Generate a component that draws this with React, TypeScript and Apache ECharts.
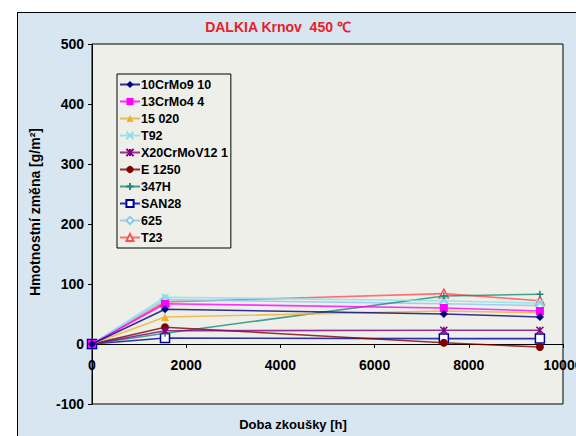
import React, { useEffect, useRef } from "react";
import * as echarts from "echarts";

const hours = [0, 1550, 7470, 9510];
const seriesNames = ["10CrMo9 10", "13CrMo4 4", "15 020", "T92", "X20CrMoV12 1", "E 1250", "347H", "SAN28", "625", "T23"];
const v10CrMo910 = [0, 58, 50, 45];
const v13CrMo44 = [0, 67, 60, 55];
const v15020 = [0, 45, 55, 52];
const vT92 = [0, 78, 72, 68];
const vX20 = [0, 22, 23, 23];
const vE1250 = [0, 28, 2, -5];
const v347H = [0, 18, 80, 83];
const vSAN28 = [0, 10, 9, 9];
const v625 = [0, 74, 67, 64];
const vT23 = [0, 70, 84, 72];
const yTicks = [-100, 0, 100, 200, 300, 400, 500];
const xTicks = [0, 2000, 4000, 6000, 8000, 10000];

const allValues = [v10CrMo910, v13CrMo44, v15020, vT92, vX20, vE1250, v347H, vSAN28, v625, vT23];

const colors = ["#000080", "#ff00ff", "#eeb030", "#88e0e8", "#800080", "#800000", "#1a8a78", "#0000a0", "#88c8f0", "#ff5050"];
const X_PATH = "path://M0,0L10,10M10,0L0,10";
const STAR_PATH = "path://M0,0L10,10M10,0L0,10M5,0L5,10";
const PLUS_PATH = "path://M5,0L5,10M0,5L10,5";
const symbols = ["diamond", "rect", "triangle", X_PATH, STAR_PATH, "circle", PLUS_PATH, "rect", "diamond", "triangle"];
const hollow = [false, false, false, false, false, false, false, true, true, true];
const strokeSym = [false, false, false, true, true, false, true, false, false, false];

export default function App() {
  const ref = useRef<HTMLDivElement>(null);
  useEffect(() => {
    document.body.style.margin = "0";
    if (!ref.current) return;
    const chart = echarts.init(ref.current, null, { renderer: "svg" });
    const font = { fontFamily: "Liberation Sans", fontWeight: "bold" as const, color: "#000" };
    const series = seriesNames.map((name, i) => ({
      name,
      type: "line",
      data: hours.map((h, j) => [h, allValues[i][j]]),
      symbol: symbols[i],
      symbolSize: hollow[i] ? 9 : strokeSym[i] ? 7 : 8,
      showAllSymbol: true,
      lineStyle: { color: colors[i], width: 1.6, opacity: 0.8 },
      itemStyle: hollow[i]
        ? { color: "#ffffff", borderColor: colors[i], borderWidth: 1.5 }
        : strokeSym[i]
        ? { color: colors[i], borderColor: colors[i], borderWidth: 1.5 }
        : { color: colors[i], borderColor: colors[i], borderWidth: 0 },
      z: 10 - i,
    }));
    chart.setOption({
      animation: false,
      textStyle: { fontFamily: "Liberation Sans" },
      grid: {
        left: 92,
        right: 37,
        top: 44,
        bottom: 32,
        show: true,
        backgroundColor: "#efefea",
        borderColor: "#000",
        borderWidth: 1,
      },
      xAxis: {
        type: "value",
        min: xTicks[0],
        max: xTicks[xTicks.length - 1],
        interval: 2000,
        position: "bottom",
        offset: -60,
        axisLine: { show: true, onZero: false, lineStyle: { color: "#000", width: 1 } },
        axisTick: { show: true, inside: false, length: 4, lineStyle: { color: "#000" } },
        axisLabel: { ...font, fontSize: 14, margin: 14, showMinLabel: true, showMaxLabel: true, formatter: (v: number) => String(v) },
        splitLine: { show: false },
      },
      yAxis: {
        type: "value",
        min: yTicks[0],
        max: yTicks[yTicks.length - 1],
        interval: 100,
        axisLine: { show: true, onZero: false, lineStyle: { color: "#000", width: 1 } },
        axisTick: { show: true, inside: false, length: 4, lineStyle: { color: "#000" } },
        axisLabel: { ...font, fontSize: 14, margin: 8 },
        splitLine: { show: false },
      },
      legend: {
        orient: "vertical",
        left: 117,
        top: 74,
        itemWidth: 20,
        itemHeight: 9,
        itemGap: 2,
        padding: [3, 3, 3, 2],
        borderColor: "#000",
        borderWidth: 1,
        backgroundColor: "transparent",
        textStyle: { ...font, fontSize: 12.5, padding: [0, 0, 0, -4], height: 15, lineHeight: 15 },
        data: seriesNames,
      },
      graphic: [
        {
          type: "text",
          x: 278,
          y: 27,
          style: {
            text: "DALKIA Krnov  450 ℃",
            fill: "#e8202a",
            font: "bold 14px 'Liberation Sans'",
            textAlign: "center",
            textVerticalAlign: "middle",
          },
        },
        {
          type: "text",
          x: 293,
          y: 424,
          style: {
            text: "Doba zkoušky [h]",
            fill: "#000",
            font: "bold 13px 'Liberation Sans'",
            textAlign: "center",
            textVerticalAlign: "middle",
          },
        },
        {
          type: "text",
          x: 35,
          y: 212,
          rotation: Math.PI / 2,
          style: {
            text: "Hmotnostní změna [g/m²]",
            fill: "#000",
            font: "bold 14px 'Liberation Sans'",
            textAlign: "center",
            textVerticalAlign: "middle",
          },
        },
      ],
      series,
    });
    return () => chart.dispose();
  }, []);
  return (
    <div style={{ position: "relative", width: 576, height: 436, background: "#fff", overflow: "hidden" }}>
      <div
        style={{
          position: "absolute",
          left: 17,
          top: 12,
          width: 600,
          height: 500,
          background: "#d8e6f2",
          border: "1px solid #000",
        }}
      />
      <div ref={ref} style={{ position: "absolute", left: 0, top: 0, width: 600, height: 436 }} />
    </div>
  );
}
